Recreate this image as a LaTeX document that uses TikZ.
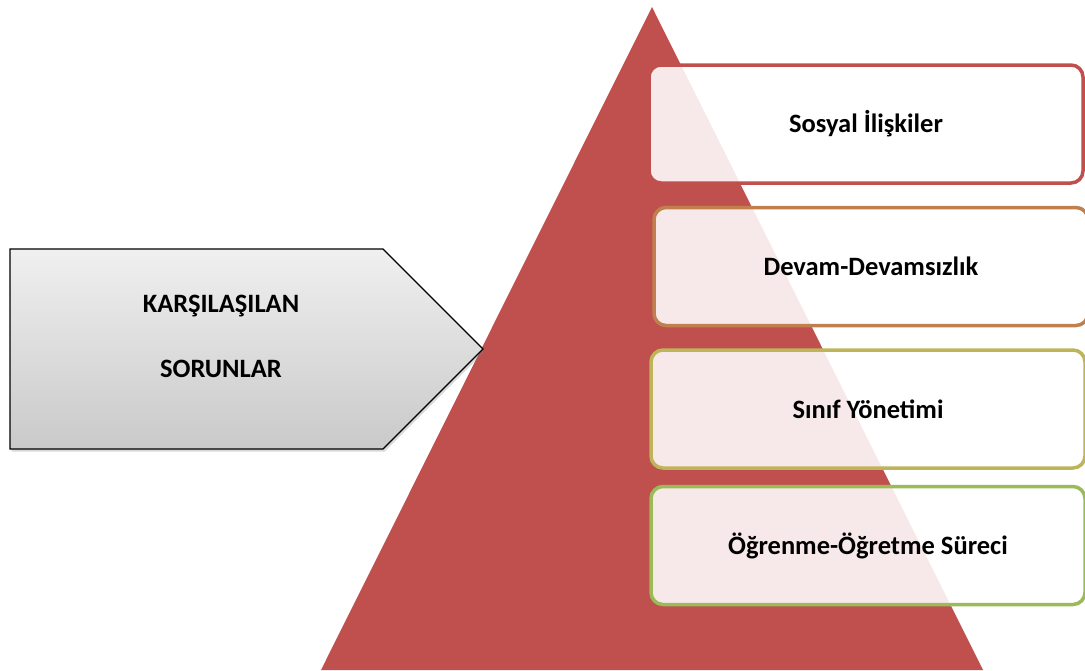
\documentclass[tikz,border=0pt]{standalone}
\usepackage{fontspec}
\setmainfont{Carlito}
\usetikzlibrary{positioning,shadows}
\definecolor{pr}{RGB}{192,80,77}
\definecolor{po}{RGB}{192,128,77}
\definecolor{py}{RGB}{190,181,90}
\definecolor{pg}{RGB}{155,187,89}
\tikzset{lv/.style={draw,line width=3.5pt,rounded corners=12pt,fill=white,fill opacity=.88,text opacity=1,
  minimum width=434pt,minimum height=118pt,font=\bfseries\fontsize{26.5}{32}\selectfont},
 tri/.style={fill=pr},
 arrowbox/.style={draw=black,line width=1.2pt,top color=gray!12,bottom color=gray!42,
  drop shadow={opacity=.3,shadow xshift=1.5pt,shadow yshift=-2.5pt}},
 lbl/.style={align=center,font=\bfseries\fontsize{26.5}{32}\selectfont}}
\begin{document}
\begin{tikzpicture}[x=1pt,y=-1pt]
\useasboundingbox (0,0) rectangle (1085,670);
\fill[tri] (652,7) -- (983,670) -- (321,670) -- cycle;
\shade[arrowbox] (10,249) -- (383,249) -- (483,349) -- (383,449) -- (10,449) -- cycle;
\node[lbl] (kp) at (221,336) {KARŞILAŞILAN\\[33pt]SORUNLAR};
\node[lv,draw=pr] (s1) at (866,124) {Sosyal İlişkiler};
\node[lv,draw=po,below=21pt of s1,xshift=5pt] (s2) {Devam-Devamsızlık};
\node[lv,draw=py,below=21pt of s2,xshift=-3pt] (s3) {Sınıf Yönetimi};
\node[lv,draw=pg,below=15pt of s3] (s4) {Öğrenme-Öğretme Süreci};
\end{tikzpicture}
\end{document}
